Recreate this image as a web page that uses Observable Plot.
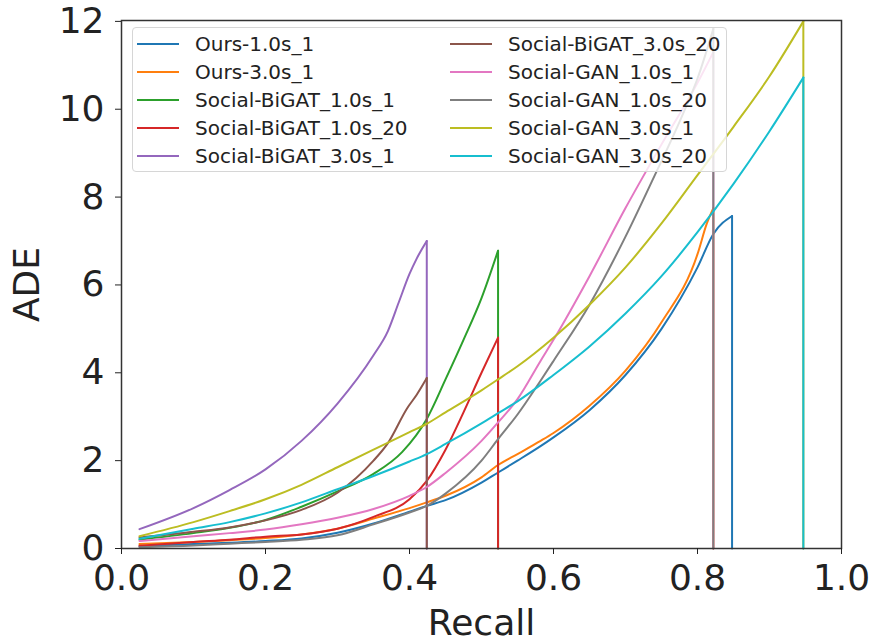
<!DOCTYPE html>
<html>
<head>
<meta charset="utf-8">
<script src="https://cdn.jsdelivr.net/npm/d3@7"></script>
<script src="https://cdn.jsdelivr.net/npm/@observablehq/plot@0.6"></script>
<style>
  html, body { margin: 0; padding: 0; background: white; }
  #wrap { position: relative; width: 872px; height: 642px; font-family: "DejaVu Sans", sans-serif; }
  #legend {
    position: absolute; left: 132px; top: 27px; width: 595px; height: 145px;
    border: 1px solid #d6d6d6; border-radius: 4px; background: rgba(255,255,255,0.8);
    box-sizing: border-box; padding: 2px 0 0 4px;
    display: grid; grid-template-columns: 313px 272px; grid-auto-flow: column; grid-template-rows: repeat(5, 28px);
  }
  .entry { display: flex; align-items: center; font-size: 20px; color: #222; white-space: nowrap; }
  .swatch { display: inline-block; width: 42px; height: 2px; margin-right: 16px; }
</style>
</head>
<body>
<div id="wrap"></div>
<script>
// ---------- data ----------
const seriesNames = [
  "Ours-1.0s_1", "Ours-3.0s_1", "Social-BiGAT_1.0s_1", "Social-BiGAT_1.0s_20", "Social-BiGAT_3.0s_1",
  "Social-BiGAT_3.0s_20", "Social-GAN_1.0s_1", "Social-GAN_1.0s_20", "Social-GAN_3.0s_1", "Social-GAN_3.0s_20"
];
const seriesColors = ["#1f77b4", "#ff7f0e", "#2ca02c", "#d62728", "#9467bd", "#8c564b", "#e377c2", "#7f7f7f", "#bcbd22", "#17becf"];

const ours10Recall = [0.025,0.1,0.15,0.2,0.25,0.3,0.35,0.4,0.424,0.45,0.5,0.523,0.55,0.582,0.6,0.65,0.7,0.75,0.8,0.822,0.848,0.848];
const ours10Ade    = [0.05,0.1,0.13,0.17,0.23,0.36,0.57,0.84,0.97,1.1,1.5,1.73,2.0,2.33,2.53,3.15,3.95,5.0,6.4,7.16,7.57,0];

const ours30Recall = [0.025,0.1,0.15,0.2,0.25,0.3,0.35,0.4,0.424,0.45,0.5,0.523,0.55,0.582,0.6,0.65,0.7,0.75,0.8,0.813,0.822,0.822];
const ours30Ade    = [0.1,0.15,0.19,0.24,0.32,0.45,0.68,0.92,1.05,1.2,1.62,1.9,2.15,2.45,2.63,3.25,4.05,5.15,6.7,7.4,7.75,0];

const bigat10s1Recall = [0.025,0.1,0.15,0.2,0.25,0.3,0.35,0.39,0.424,0.45,0.475,0.5,0.523,0.523];
const bigat10s1Ade    = [0.2,0.35,0.47,0.65,0.95,1.3,1.7,2.2,2.95,3.85,4.75,5.7,6.78,0];

const bigat10s20Recall = [0.025,0.1,0.15,0.2,0.25,0.3,0.35,0.4,0.424,0.45,0.475,0.5,0.523,0.523];
const bigat10s20Ade    = [0.06,0.15,0.2,0.27,0.32,0.45,0.72,1.12,1.54,2.25,3.1,4.0,4.8,0];

const bigat30s1Recall = [0.025,0.1,0.15,0.2,0.25,0.3,0.35,0.37,0.385,0.4,0.41,0.424,0.424];
const bigat30s1Ade    = [0.44,0.92,1.33,1.8,2.45,3.3,4.4,4.95,5.6,6.25,6.6,7.0,0];

const bigat30s20Recall = [0.025,0.1,0.15,0.2,0.25,0.3,0.35,0.37,0.397,0.41,0.424,0.424];
const bigat30s20Ade    = [0.25,0.38,0.48,0.64,0.88,1.27,2.0,2.4,3.2,3.5,3.88,0];

const gan10s1Recall = [0.025,0.1,0.15,0.2,0.25,0.3,0.35,0.4,0.424,0.45,0.5,0.523,0.55,0.582,0.6,0.65,0.7,0.75,0.8,0.822,0.822];
const gan10s1Ade    = [0.17,0.28,0.35,0.43,0.55,0.7,0.9,1.2,1.4,1.72,2.45,2.87,3.4,4.27,4.75,6.2,7.75,9.2,10.6,11.3,0];

const gan10s20Recall = [0.025,0.1,0.15,0.2,0.25,0.3,0.35,0.4,0.424,0.45,0.5,0.523,0.55,0.582,0.6,0.65,0.7,0.737,0.78,0.8,0.822,0.822];
const gan10s20Ade    = [0.03,0.07,0.11,0.15,0.2,0.3,0.55,0.82,0.97,1.25,2.0,2.49,3.05,3.82,4.27,5.55,7.1,8.37,9.9,10.7,11.83,0];

const gan30s1Recall = [0.025,0.1,0.15,0.2,0.25,0.3,0.35,0.4,0.424,0.45,0.5,0.523,0.55,0.6,0.65,0.7,0.75,0.8,0.85,0.9,0.947,0.947];
const gan30s1Ade    = [0.28,0.6,0.85,1.12,1.45,1.85,2.25,2.65,2.84,3.1,3.6,3.85,4.15,4.8,5.55,6.4,7.4,8.5,9.6,10.75,12.0,0];

const gan30s20Recall = [0.025,0.1,0.15,0.2,0.25,0.3,0.35,0.4,0.424,0.45,0.5,0.523,0.55,0.6,0.65,0.7,0.75,0.8,0.85,0.9,0.947,0.947];
const gan30s20Ade    = [0.22,0.45,0.6,0.8,1.05,1.35,1.65,1.98,2.15,2.38,2.85,3.08,3.35,3.95,4.6,5.35,6.2,7.2,8.3,9.5,10.72,0];

const xTicks = [0, 0.2, 0.4, 0.6, 0.8, 1.0];
const yTicks = [0, 2, 4, 6, 8, 10, 12];

// ---------- tidy tables ----------
const seriesRecall = [ours10Recall, ours30Recall, bigat10s1Recall, bigat10s20Recall, bigat30s1Recall,
  bigat30s20Recall, gan10s1Recall, gan10s20Recall, gan30s1Recall, gan30s20Recall];
const seriesAde = [ours10Ade, ours30Ade, bigat10s1Ade, bigat10s20Ade, bigat30s1Ade,
  bigat30s20Ade, gan10s1Ade, gan10s20Ade, gan30s1Ade, gan30s20Ade];

// Each series: a smooth rising part, then the final vertical drop to zero
const lineMarks = seriesNames.flatMap((name, i) => {
  const pts = seriesRecall[i].map((r, j) => ({series: name, recall: r, ade: seriesAde[i][j]}));
  const n = pts.length;
  return [
    Plot.line(pts.slice(0, n - 1), {x: "recall", y: "ade", stroke: "series", strokeWidth: 2, curve: "monotone-x"}),
    Plot.line(pts.slice(n - 2), {x: "recall", y: "ade", stroke: "series", strokeWidth: 2})
  ];
});

const chart = Plot.plot({
  width: 872,
  height: 642,
  marginLeft: 121,
  marginRight: 31,
  marginTop: 20,
  marginBottom: 94,
  style: {fontFamily: "DejaVu Sans, sans-serif", color: "#222", background: "white", overflow: "visible"},
  x: {domain: [0, 1]},
  y: {domain: [0, 12.02]},
  color: {domain: seriesNames, range: seriesColors},
  marks: [
    ...lineMarks,
    Plot.frame({stroke: "#333", strokeWidth: 1.5}),
    Plot.axisX({ticks: xTicks, tickFormat: d => d.toFixed(1), tickSize: 6, tickPadding: 10, fontSize: 36,
      label: "Recall", labelAnchor: "center", labelArrow: "none", labelOffset: 86}),
    Plot.axisY({ticks: yTicks, tickSize: 6, tickPadding: 11, fontSize: 36,
      label: "ADE", labelAnchor: "center", labelArrow: "none", labelOffset: 108})
  ]
});

const wrap = document.getElementById("wrap");
wrap.appendChild(chart);

// ---------- legend ----------
const legend = document.createElement("div");
legend.id = "legend";
seriesNames.forEach((name, i) => {
  const e = document.createElement("div");
  e.className = "entry";
  const s = document.createElement("span");
  s.className = "swatch";
  s.style.background = seriesColors[i];
  e.appendChild(s);
  e.appendChild(document.createTextNode(name));
  legend.appendChild(e);
});
wrap.appendChild(legend);
</script>
</body>
</html>
